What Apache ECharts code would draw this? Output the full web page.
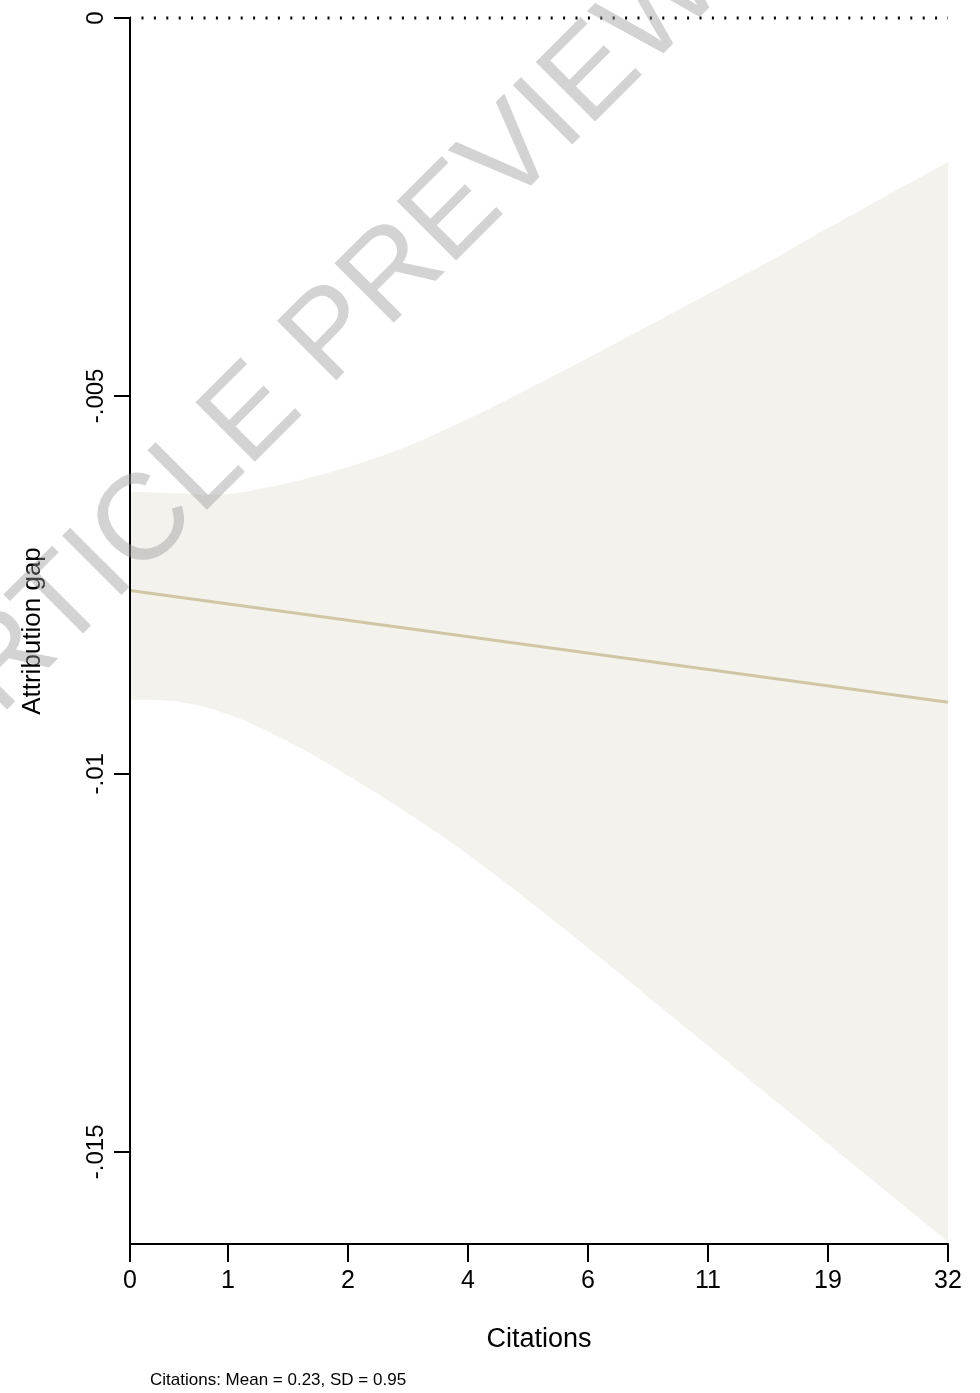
<!DOCTYPE html>
<html>
<head>
<meta charset="utf-8">
<title>Attribution gap by citations</title>
<script src="https://cdn.jsdelivr.net/npm/echarts@6/dist/echarts.min.js"></script>
<style>
  html, body { margin: 0; padding: 0; background: #ffffff; }
  #chart { width: 980px; height: 1393px; }
</style>
</head>
<body>
<div id="chart"></div>
<script>
// Citations are plotted on a transformed scale; each unit is one labelled step.
const xTickPos = [-0.8167, 0, 1, 2, 3, 4, 5, 6];
const xTickLabels = ['0', '1', '2', '4', '6', '11', '19', '32'];

const yTickPos = [0, -0.005, -0.01, -0.015];
const yTickLabels = ['0', '-.005', '-.01', '-.015'];

// Sample positions along the transformed citations scale
const bandX = [-0.8167, -0.4, 0, 0.5, 1, 1.5, 2, 2.5, 3, 3.5, 4, 4.5, 5, 5.5, 6];
// Upper and lower bounds of the confidence band
const bandHigh = [-0.006266, -0.006290, -0.006296, -0.006151, -0.005939, -0.005661, -0.005304,
                  -0.004907, -0.004497, -0.004074, -0.003651, -0.003228, -0.002778, -0.002341, -0.001905];
const bandLow = [-0.009021, -0.009048, -0.009213, -0.009570, -0.010024, -0.010522, -0.011066,
                 -0.011672, -0.012302, -0.012950, -0.013598, -0.014246, -0.014894, -0.015542, -0.016190];

// Predicted attribution gap (straight line)
const fitX = [-0.8167, 6];
const fitY = [-0.007575, -0.009052];

const FONT = '"Liberation Sans", Arial, Helvetica, sans-serif';

function findLabel(v, pos, labels) {
  for (let i = 0; i < pos.length; i++) {
    if (Math.abs(pos[i] - v) < 1e-7) return labels[i];
  }
  return '';
}

// Smooth curve through pixel points (Catmull-Rom converted to cubic Bezier).
function curveThrough(pts, startCmd) {
  let d = startCmd + pts[0][0].toFixed(2) + ' ' + pts[0][1].toFixed(2);
  for (let i = 0; i < pts.length - 1; i++) {
    const p0 = pts[i === 0 ? 0 : i - 1];
    const p1 = pts[i];
    const p2 = pts[i + 1];
    const p3 = pts[i + 2 < pts.length ? i + 2 : i + 1];
    const c1x = p1[0] + (p2[0] - p0[0]) / 6, c1y = p1[1] + (p2[1] - p0[1]) / 6;
    const c2x = p2[0] - (p3[0] - p1[0]) / 6, c2y = p2[1] - (p3[1] - p1[1]) / 6;
    d += ' C ' + c1x.toFixed(2) + ' ' + c1y.toFixed(2) + ' ' + c2x.toFixed(2) + ' ' + c2y.toFixed(2) +
         ' ' + p2[0].toFixed(2) + ' ' + p2[1].toFixed(2);
  }
  return d;
}

const chart = echarts.init(document.getElementById('chart'), null, { renderer: 'canvas' });

const option = {
  backgroundColor: '#ffffff',
  animation: false,
  grid: { left: 130, right: 32, top: 18, bottom: 149, containLabel: false },
  xAxis: {
    type: 'value',
    min: xTickPos[0],
    max: xTickPos[xTickPos.length - 1],
    z: 10,
    name: 'Citations',
    nameLocation: 'middle',
    nameGap: 82,
    nameTextStyle: { fontFamily: FONT, fontSize: 27, color: '#000' },
    axisLine: { show: true, onZero: false, lineStyle: { color: '#000', width: 2 } },
    axisTick: { show: true, customValues: xTickPos, length: 18, lineStyle: { color: '#000', width: 2 } },
    axisLabel: {
      customValues: xTickPos,
      margin: 25,
      fontFamily: FONT,
      fontSize: 25,
      color: '#000',
      formatter: (v) => findLabel(v, xTickPos, xTickLabels)
    },
    splitLine: { show: false }
  },
  yAxis: {
    type: 'value',
    min: -0.01622,
    max: 0,
    z: 10,
    name: 'Attribution gap',
    nameLocation: 'middle',
    nameRotate: 90,
    nameGap: 84,
    nameTextStyle: { fontFamily: FONT, fontSize: 26, color: '#000' },
    axisLine: { show: true, onZero: false, lineStyle: { color: '#000', width: 2 } },
    axisTick: { show: true, customValues: yTickPos, length: 16, lineStyle: { color: '#000', width: 2 } },
    axisLabel: {
      customValues: yTickPos,
      rotate: 90,
      margin: 22,
      fontFamily: FONT,
      fontSize: 24,
      color: '#000',
      formatter: (v) => findLabel(v, yTickPos, yTickLabels)
    },
    splitLine: { show: false }
  },
  series: [
    {
      // confidence band: smooth upper edge, then lower edge back to the start
      type: 'custom',
      z: 1,
      silent: true,
      data: [0],
      renderItem: function (params, api) {
        const upper = bandX.map((x, i) => api.coord([x, bandHigh[i]]));
        const lower = bandX.map((x, i) => api.coord([x, bandLow[i]])).reverse();
        const d = curveThrough(upper, 'M ') + ' ' + curveThrough(lower, 'L ') + ' Z';
        return {
          type: 'path',
          shape: { pathData: d },
          style: { fill: '#f3f2ed', stroke: null }
        };
      }
    },
    {
      // reference line at zero
      type: 'line',
      z: 3,
      clip: false,
      symbol: 'none',
      silent: true,
      data: [[xTickPos[0], 0], [xTickPos[xTickPos.length - 1], 0]],
      lineStyle: { color: '#000', width: 3, type: [2, 10.4], dashOffset: 0.9, cap: 'butt' }
    },
    {
      // fitted line
      type: 'line',
      z: 4,
      symbol: 'none',
      data: fitX.map((x, i) => [x, fitY[i]]),
      lineStyle: { color: '#d0c6a5', width: 3 }
    }
  ],
  graphic: [
    {
      type: 'text',
      left: 150,
      top: 1372,
      style: {
        text: 'Citations: Mean = 0.23, SD = 0.95',
        font: '17px ' + FONT,
        fill: '#000'
      }
    },
    {
      type: 'text',
      x: 311,
      y: 358,
      rotation: Math.PI / 4,
      z: 100,
      silent: true,
      style: {
        text: 'ARTICLE PREVIEW',
        font: '122px ' + FONT,
        fill: 'rgba(150,150,150,0.42)',
        align: 'center',
        verticalAlign: 'middle'
      }
    }
  ]
};

chart.setOption(option);
</script>
</body>
</html>
